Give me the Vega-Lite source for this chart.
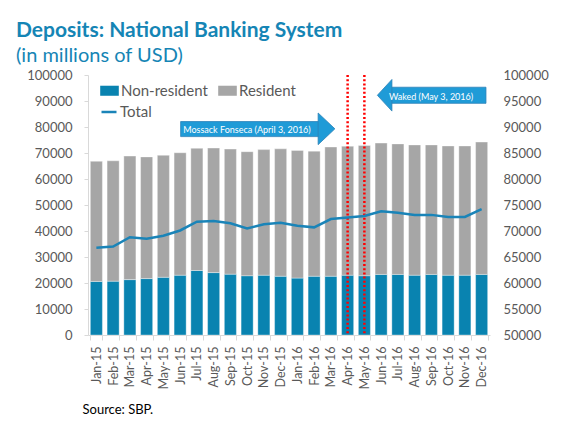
{
  "$schema": "https://vega.github.io/schema/vega-lite/v6.json",
  "width": 402,
  "height": 260,
  "autosize": {"type": "none"},
  "padding": {"left": 88, "top": 75, "right": 85, "bottom": 86},
  "background": "white",
  "title": {
    "text": "Deposits: National Banking System",
    "subtitle": "(in millions of USD)",
    "anchor": "start",
    "frame": "group",
    "dx": -72,
    "font": "Lato",
    "fontSize": 21,
    "fontWeight": "bold",
    "color": "#1585b5",
    "subtitleFont": "Lato",
    "subtitleFontSize": 20,
    "subtitleColor": "#1585b5",
    "subtitlePadding": 5,
    "offset": 3
  },
  "datasets": {
    "deposits": [
      {"month": "Jan-15", "series": "Non-resident", "value": 20600}, {"month": "Jan-15", "series": "Resident", "value": 46200},
      {"month": "Feb-15", "series": "Non-resident", "value": 20700}, {"month": "Feb-15", "series": "Resident", "value": 46300},
      {"month": "Mar-15", "series": "Non-resident", "value": 21300}, {"month": "Mar-15", "series": "Resident", "value": 47500},
      {"month": "Apr-15", "series": "Non-resident", "value": 21700}, {"month": "Apr-15", "series": "Resident", "value": 46800},
      {"month": "May-15", "series": "Non-resident", "value": 22200}, {"month": "May-15", "series": "Resident", "value": 46900},
      {"month": "Jun-15", "series": "Non-resident", "value": 23000}, {"month": "Jun-15", "series": "Resident", "value": 47100},
      {"month": "Jul-15", "series": "Non-resident", "value": 24800}, {"month": "Jul-15", "series": "Resident", "value": 47000},
      {"month": "Aug-15", "series": "Non-resident", "value": 24000}, {"month": "Aug-15", "series": "Resident", "value": 47900},
      {"month": "Sep-15", "series": "Non-resident", "value": 23400}, {"month": "Sep-15", "series": "Resident", "value": 48100},
      {"month": "Oct-15", "series": "Non-resident", "value": 22800}, {"month": "Oct-15", "series": "Resident", "value": 47700},
      {"month": "Nov-15", "series": "Non-resident", "value": 23000}, {"month": "Nov-15", "series": "Resident", "value": 48300},
      {"month": "Dec-15", "series": "Non-resident", "value": 22600}, {"month": "Dec-15", "series": "Resident", "value": 49000},
      {"month": "Jan-16", "series": "Non-resident", "value": 21900}, {"month": "Jan-16", "series": "Resident", "value": 49100},
      {"month": "Feb-16", "series": "Non-resident", "value": 22600}, {"month": "Feb-16", "series": "Resident", "value": 48100},
      {"month": "Mar-16", "series": "Non-resident", "value": 22600}, {"month": "Mar-16", "series": "Resident", "value": 49700},
      {"month": "Apr-16", "series": "Non-resident", "value": 23000}, {"month": "Apr-16", "series": "Resident", "value": 49600},
      {"month": "May-16", "series": "Non-resident", "value": 22800}, {"month": "May-16", "series": "Resident", "value": 50100},
      {"month": "Jun-16", "series": "Non-resident", "value": 23300}, {"month": "Jun-16", "series": "Resident", "value": 50500},
      {"month": "Jul-16", "series": "Non-resident", "value": 23300}, {"month": "Jul-16", "series": "Resident", "value": 50200},
      {"month": "Aug-16", "series": "Non-resident", "value": 23000}, {"month": "Aug-16", "series": "Resident", "value": 50100},
      {"month": "Sep-16", "series": "Non-resident", "value": 23300}, {"month": "Sep-16", "series": "Resident", "value": 49800},
      {"month": "Oct-16", "series": "Non-resident", "value": 23000}, {"month": "Oct-16", "series": "Resident", "value": 49700},
      {"month": "Nov-16", "series": "Non-resident", "value": 23000}, {"month": "Nov-16", "series": "Resident", "value": 49700},
      {"month": "Dec-16", "series": "Non-resident", "value": 23300}, {"month": "Dec-16", "series": "Resident", "value": 50900}
    ],
    "total": [
      {"month": "Jan-15", "total": 66800}, {"month": "Feb-15", "total": 67000}, {"month": "Mar-15", "total": 68800},
      {"month": "Apr-15", "total": 68500}, {"month": "May-15", "total": 69100}, {"month": "Jun-15", "total": 70100},
      {"month": "Jul-15", "total": 71800}, {"month": "Aug-15", "total": 71900}, {"month": "Sep-15", "total": 71500},
      {"month": "Oct-15", "total": 70500}, {"month": "Nov-15", "total": 71300}, {"month": "Dec-15", "total": 71600},
      {"month": "Jan-16", "total": 71000}, {"month": "Feb-16", "total": 70700}, {"month": "Mar-16", "total": 72300},
      {"month": "Apr-16", "total": 72600}, {"month": "May-16", "total": 72900}, {"month": "Jun-16", "total": 73800},
      {"month": "Jul-16", "total": 73500}, {"month": "Aug-16", "total": 73100}, {"month": "Sep-16", "total": 73100},
      {"month": "Oct-16", "total": 72700}, {"month": "Nov-16", "total": 72700}, {"month": "Dec-16", "total": 74200}
    ],
    "events": [{"month": "Apr-16"}, {"month": "May-16"}],
    "arrows": [
      {"dir": "right", "x1": 5.53, "x2": 13.8, "y1": 76.3, "y2": 82.1, "hx": 14.24, "hy": 79.3, "tx": 9.49, "ty": 78.8, "label": "Mossack Fonseca (April 3, 2016)"},
      {"dir": "left", "x1": 18.1, "x2": 23.76, "y1": 89.1, "y2": 95.3, "hx": 17.71, "hy": 92.2, "tx": 20.48, "ty": 91.7, "label": "Waked (May 3, 2016)"}
    ]
  },
  "layer": [
    {
      "layer": [
        {
          "data": {"name": "deposits"},
          "mark": {"type": "bar", "stroke": "#ffffff", "strokeOpacity": 0.35, "strokeWidth": 1},
          "encoding": {
            "x": {
              "field": "month", "type": "ordinal", "sort": null,
              "scale": {"paddingInner": 0.28, "paddingOuter": 0.14},
              "axis": {
                "title": "Source: SBP.",
                "titleAnchor": "start", "titleAlign": "left", "titleX": -6, "titleY": 78, "titleBaseline": "alphabetic",
                "titleColor": "#000000", "titleFont": "Lato", "titleFontSize": 13, "titleFontWeight": "normal",
                "labelAngle": -90, "labelFontSize": 12.5, "labelColor": "#595959", "labelFont": "Lato",
                "domainColor": "#d9d9d9", "tickColor": "#d9d9d9", "tickSize": 5, "tickBand": "extent", "labelPadding": 6
              }
            },
            "y": {
              "field": "value", "type": "quantitative", "stack": "zero",
              "scale": {"domain": [0, 100000], "nice": false},
              "axis": {
                "title": null, "values": [0, 10000, 20000, 30000, 40000, 50000, 60000, 70000, 80000, 90000, 100000],
                "format": "d", "labelFontSize": 13, "labelColor": "#595959", "labelFont": "Lato",
                "domainColor": "#d9d9d9", "tickColor": "#d9d9d9", "tickSize": 4, "labelPadding": 12, "grid": false
              }
            },
            "color": {
              "field": "series", "type": "nominal",
              "scale": {"domain": ["Non-resident", "Resident"], "range": ["#0983b0", "#a6a6a6"]},
              "legend": {
                "title": null, "orient": "none", "legendX": 12, "legendY": 6, "direction": "horizontal",
                "symbolType": "M-1,-0.54L1,-0.54L1,0.54L-1,0.54Z", "symbolSize": 346, "symbolStrokeWidth": 0,
                "labelFontSize": 15, "labelColor": "#595959", "labelFont": "Lato", "labelOffset": 2, "columnPadding": 10
              }
            },
            "order": {"field": "series", "sort": "ascending"}
          }
        },
        {
          "data": {"name": "events"},
          "mark": {"type": "rule", "color": "#ff0000", "strokeWidth": 2.5, "strokeDash": [2, 2.2]},
          "encoding": {"x": {"field": "month", "type": "ordinal", "sort": null}}
        },
        {
          "data": {"name": "total"},
          "mark": {"type": "line", "strokeWidth": 2.5},
          "encoding": {
            "x": {"field": "month", "type": "ordinal", "sort": null},
            "y": {
              "field": "total", "type": "quantitative",
              "scale": {"domain": [50000, 100000], "nice": false},
              "axis": {
                "orient": "right", "title": null,
                "values": [50000, 55000, 60000, 65000, 70000, 75000, 80000, 85000, 90000, 95000, 100000],
                "format": "d", "labelFontSize": 13, "labelColor": "#595959", "labelFont": "Lato",
                "domain": false, "ticks": false, "labelPadding": 13, "grid": false
              }
            },
            "stroke": {
              "datum": "Total", "type": "nominal",
              "scale": {"domain": ["Total"], "range": ["#1a84b8"]},
              "legend": {
                "title": null, "orient": "none", "legendX": 12, "legendY": 28,
                "symbolType": "stroke", "symbolSize": 225, "symbolStrokeWidth": 2.5,
                "labelFontSize": 15, "labelColor": "#595959", "labelFont": "Lato", "labelOffset": 2
              }
            }
          }
        }
      ],
      "resolve": {"scale": {"y": "independent"}}
    },
    {
      "data": {"name": "arrows"},
      "layer": [
        {
          "mark": {"type": "rect", "fill": "#1f9bd7", "stroke": "#2d82b8", "strokeWidth": 0.8},
          "encoding": {
            "x": {"field": "x1", "type": "quantitative", "scale": {"domain": [0, 24], "nice": false, "zero": false}, "axis": null},
            "x2": {"field": "x2"},
            "y": {"field": "y1", "type": "quantitative", "scale": {"domain": [0, 100], "nice": false}, "axis": null},
            "y2": {"field": "y2"}
          }
        },
        {
          "mark": {"type": "point", "filled": true, "fill": "#1f9bd7", "stroke": "#2d82b8", "strokeWidth": 0.8, "opacity": 1, "size": 1000},
          "encoding": {
            "x": {"field": "hx", "type": "quantitative"},
            "y": {"field": "hy", "type": "quantitative"},
            "shape": {
              "field": "dir", "type": "nominal",
              "scale": {"domain": ["right", "left"], "range": ["M-0.53,-1L0.53,0L-0.53,1Z", "M0.46,-1L-0.46,0L0.46,1Z"]},
              "legend": null
            }
          }
        },
        {
          "mark": {"type": "text", "color": "#ffffff", "fontSize": 9, "font": "Lato", "align": "center", "baseline": "middle"},
          "encoding": {
            "x": {"field": "tx", "type": "quantitative"},
            "y": {"field": "ty", "type": "quantitative"},
            "text": {"field": "label"}
          }
        }
      ]
    }
  ],
  "resolve": {"scale": {"x": "independent", "y": "independent"}},
  "config": {
    "font": "Lato",
    "view": {"stroke": null},
    "legend": {"padding": 0}
  }
}
